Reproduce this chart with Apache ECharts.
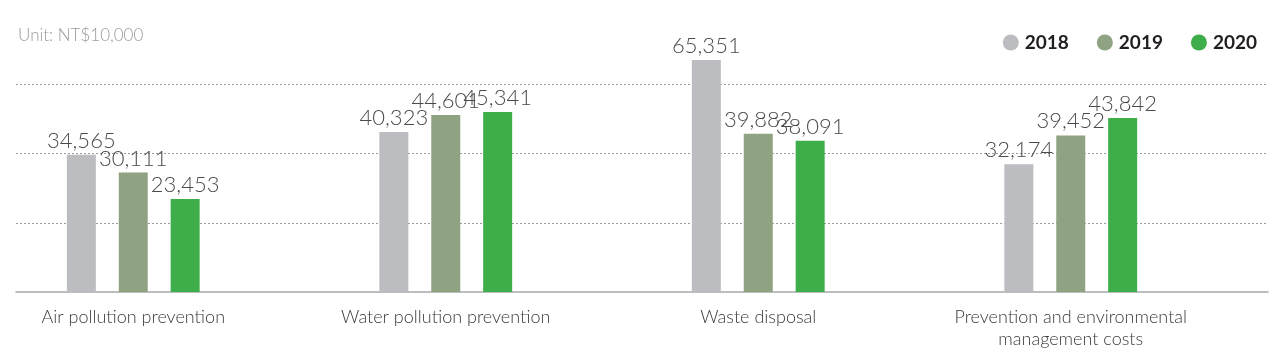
<!DOCTYPE html>
<html>
<head>
<meta charset="utf-8">
<script src="https://cdn.jsdelivr.net/npm/echarts@6/dist/echarts.min.js"></script>
<style>
html,body{margin:0;padding:0;background:#fff;}
#chart{width:1280px;height:356px;}
</style>
</head>
<body>
<div id="chart"></div>
<script>
const categories = ['Air pollution prevention', 'Water pollution prevention', 'Waste disposal', 'Prevention and environmental\nmanagement costs'];
const years = ['2018', '2019', '2020'];
const values2018 = [34565, 40323, 65351, 32174];
const values2019 = [30111, 44601, 39882, 39452];
const values2020 = [23453, 45341, 38091, 43842];
const unitText = 'Unit: NT$10,000';

const colors = ['#bcbdc1', '#8fa382', '#3dae4a'];
const font = 'Lato, "Open Sans", sans-serif';
const fmt = v => Number(v).toLocaleString('en-US');

const seriesValues = [values2018, values2019, values2020];

const chart = echarts.init(document.getElementById('chart'), null, {renderer: 'canvas'});
chart.setOption({
  animation: false,
  color: colors,
  title: {
    text: unitText, left: 13, top: 22,
    textStyle: {fontFamily: font, fontSize: 17, fontWeight: 300, color: '#9a9a9a'}
  },
  legend: {
    data: years, right: 18, top: 28, icon: 'circle', itemWidth: 16, itemHeight: 16, itemGap: 28,
    textStyle: {fontFamily: font, fontSize: 19, fontWeight: 'bold', color: '#231f20', padding: [0,0,0,1]}
  },
  grid: [
    {left: 16, right: 12, top: 15, bottom: 64, outerBoundsMode: 'none'},
    {left: -23, right: 53, top: 12, bottom: 64, outerBoundsMode: 'none'}
  ],
  xAxis: [
    {gridIndex: 0, type: 'category', data: categories, axisLabel: {show: false}, axisTick: {show: false},
     axisLine: {show: true, lineStyle: {color: '#a6a8ab', width: 1.5}}},
    {gridIndex: 1, type: 'category', data: categories, axisTick: {show: false}, axisLine: {show: false},
     axisLabel: {margin: 14, fontFamily: font, fontSize: 18, fontWeight: 300, color: '#3a3a3a', lineHeight: 22}}
  ],
  yAxis: [
    {gridIndex: 0, type: 'value', min: 0, max: 4, interval: 1, axisLabel: {show: false}, axisLine: {show: false}, axisTick: {show: false},
     splitLine: {show: true, showMinLine: false, showMaxLine: false, lineStyle: {color: '#9a9a9a', type: [2, 2], width: 1}}},
    {gridIndex: 1, type: 'value', min: 0, max: 77442, axisLabel: {show: false}, axisLine: {show: false}, axisTick: {show: false},
     splitLine: {show: false},
     breaks: [{start: 50000, end: 56913, gap: 0}],
     breakArea: {show: false}}
  ],
  series: years.map((y, i) => ({
    name: y, type: 'bar', xAxisIndex: 1, yAxisIndex: 1,
    data: seriesValues[i], barWidth: 29, barGap: '79%',
    itemStyle: {color: colors[i]},
    label: {show: true, position: 'top', distance: 3, formatter: p => fmt(p.value),
      fontFamily: font, fontSize: 22, fontWeight: 300, color: '#4a4a4a'}
  }))
});
</script>
</body>
</html>
